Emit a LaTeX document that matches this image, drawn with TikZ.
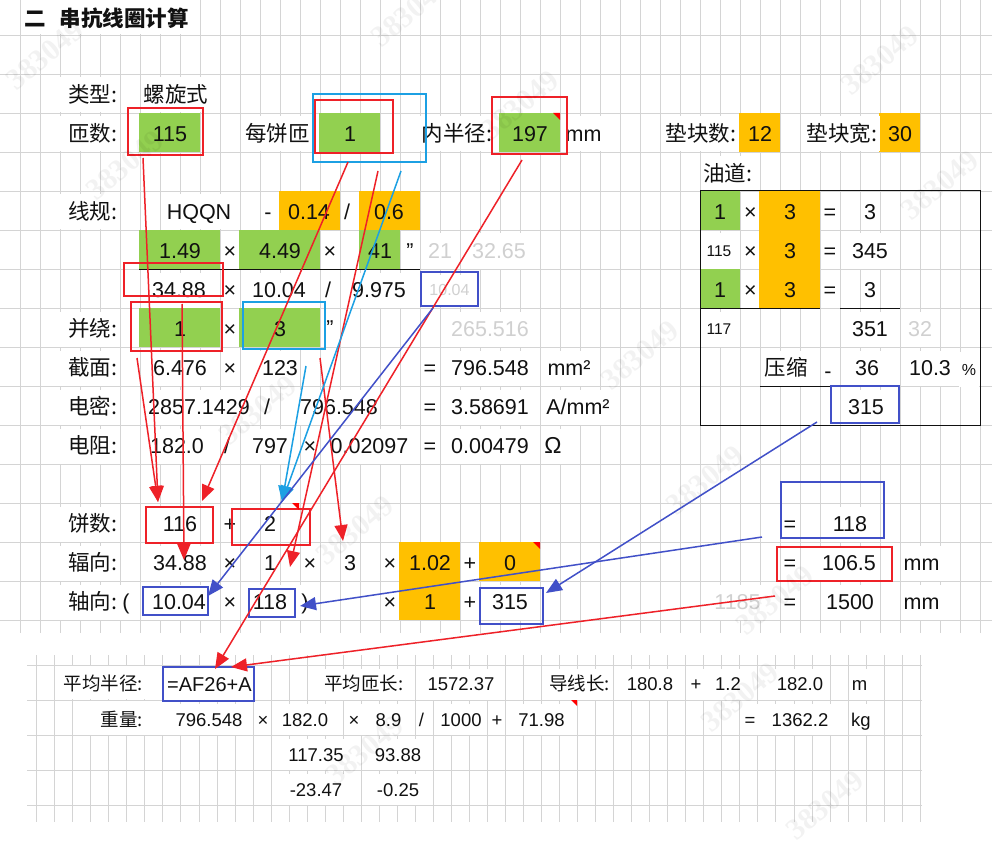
\documentclass[tikz,border=0pt]{standalone}
\usepackage{fontspec}
\setmainfont{Liberation Sans}
\newfontfamily\cjk{Noto Sans CJK SC}
\newfontfamily\wmfont{Liberation Serif}
\usetikzlibrary{arrows.meta}
\definecolor{gridc}{HTML}{D4D4D4}
\definecolor{xgreen}{HTML}{92D050}
\definecolor{xorange}{HTML}{FFC000}
\definecolor{xred}{HTML}{EE2128}
\definecolor{xsky}{HTML}{1CA0E3}
\definecolor{xblue}{HTML}{4150C8}
\definecolor{xgrey}{HTML}{D0D0D0}
\definecolor{ink}{HTML}{111111}
\newcommand{\fa}{\fontsize{21.5}{24}\selectfont}
\newcommand{\fb}{\fontsize{18.5}{21}\selectfont}
\newcommand{\fsm}{\fontsize{15.5}{18}\selectfont}
\begin{document}
\begin{tikzpicture}[x=1pt,y=-1pt,
 gl/.style={draw=gridc, line width=0.9pt},
 tx/.style={inner sep=0pt, text=ink, font=\fa, text height=15.4pt, text depth=0pt, yshift=-1.5pt},
 wt/.style={tx, fill=white, inner xsep=2.5pt, minimum height=35pt},
 wl/.style={tx, font=\fb, text height=13.3pt, fill=white, inner xsep=2.5pt, minimum height=31pt},
 lab/.style={wt, font=\fa\cjk, text width=74pt, align=right},
 cj/.style={wt, font=\fa\cjk},
 cjl/.style={wl, font=\fb\cjk},
 gr/.style={wt, text=xgrey},
 small/.style={font=\fsm, text height=11.1pt},
 rb/.style={draw=xred, line width=2pt},
 bb/.style={draw=xblue, line width=2pt},
 sb/.style={draw=xsky, line width=2pt},
 rule/.style={draw=ink, line width=1pt},
 ar/.style={line width=1.5pt, -{Triangle[length=16pt,width=13pt]}},
 wm/.style={text=black, opacity=0.05, font=\wmfont\bfseries\fontsize{30}{32}\selectfont, rotate=40, inner sep=0pt},
]
\fill[white] (0,0) rectangle (992,842);
\useasboundingbox (0,0) rectangle (992,842);
% ---------- grids ----------
\foreach \k in {0,...,15} \draw[gl] (0,{35+39*\k}) -- (992,{35+39*\k});
\foreach \k in {1,...,49} \draw[gl] ({20*\k},0) -- ({20*\k},633);
\foreach \yy in {665,700,735.7,770.7,805.5} \draw[gl] (27,\yy) -- (922,\yy);
\foreach \k in {0,...,49} \draw[gl] ({36.7+18.03*\k},655) -- ({36.7+18.03*\k},822);
% ---------- fills ----------
\fill[white] (20.5,0) rectangle (199.5,34.4);
\fill[xgreen] (139,113) rectangle (200,152);
\fill[xgreen] (319,113) rectangle (380,152);
\fill[xgreen] (499,113) rectangle (560,152);
\fill[xorange] (739,113) rectangle (780,152);
\fill[xorange] (879,113) rectangle (920,152);
\fill[xorange] (279,191) rectangle (340,230);
\fill[xorange] (359,191) rectangle (420,230);
\fill[xgreen] (700,191) rectangle (740,230);
\fill[xgreen] (700,269) rectangle (740,308);
\fill[xorange] (759,191) rectangle (820,308);
\fill[xgreen] (139,230) rectangle (220,269);
\fill[xgreen] (239,230) rectangle (320,269);
\fill[xgreen] (359,230) rectangle (400,269);
\fill[xgreen] (139,308) rectangle (220,347);
\fill[xgreen] (239,308) rectangle (320,347);
\fill[xorange] (399,542) rectangle (460,620);
\fill[xorange] (479,542) rectangle (540,581);
\fill[white] (55.5,665.6) rectangle (162.5,699.4);
\fill[white] (73.5,700.6) rectangle (162.5,735);
\fill[white] (163,667) rectangle (254,701);
% ---------- title ----------
\node[tx, font=\fa\cjk\bfseries, anchor=west] (title) at (24,17.5) {二\hspace{14pt}串抗线圈计算};
% ---------- labels ----------
\node[lab] (lLX) at (80,93.5) {类型:};
\node[lab] (lZS) at (80,132.5) {匝数:};
\node[lab] (lXG) at (80,210.5) {线规:};
\node[lab] (lBR) at (80,327.5) {并绕:};
\node[lab] (lJM) at (80,366.5) {截面:};
\node[lab] (lDM) at (80,405.5) {电密:};
\node[lab] (lDZ) at (80,444.5) {电阻:};
\node[lab] (lBS) at (80,522.5) {饼数:};
\node[lab] (lFX) at (80,561.5) {辐向:};
\node[lab] (lZX) at (80,600.5) {轴向:};
% row A
\node[cj, anchor=west] (type) at (141,93.5) {螺旋式};
% row B
\node[tx] (n115) at (170,132.5) {115};
\node[cj, anchor=east] (mbz) at (312.5,132.5) {每饼匝};
\node[tx] (nmb) at (350,132.5) {1};
\node[cj, anchor=east] (nbj) at (495,132.5) {内半径:};
\node[tx] (n197) at (530,132.5) {197};
\node[wt, anchor=west] (mm1) at (563,132.5) {mm};
\node[cj, anchor=east] (dks) at (739,132.5) {垫块数:};
\node[tx] (n12) at (760,132.5) {12};
\node[cj, anchor=east] (dkk) at (880,132.5) {垫块宽:};
\node[tx] (n30) at (900,132.5) {30};
% row C
\node[cj, anchor=west] (yd) at (700.5,172) {油道:};
% row D
\node[wt] (hqqn) at (199,210.5) {HQQN};
\node[wt] (dash1) at (268,210.5) {-};
\node[tx] (n014) at (309,210.5) {0.14};
\node[wt] (sl1) at (347,210.5) {/};
\node[tx] (n06) at (389,210.5) {0.6};
\node[tx] (t11) at (720,210.5) {1};
\node[wt] (tx11) at (750.5,210.5) {×};
\node[tx] (t12) at (790,210.5) {3};
\node[wt] (te1) at (830,210.5) {=};
\node[wt] (t13) at (870,210.5) {3};
% row E
\node[tx] (n149) at (180,249.5) {1.49};
\node[wt] (x1) at (230,249.5) {×};
\node[tx] (n449) at (280,249.5) {4.49};
\node[wt] (x2) at (330,249.5) {×};
\node[tx] (n41) at (380,249.5) {41};
\node[tx] (q1) at (410,249.5) {"};
\node[gr] (g21) at (440,249.5) {21};
\node[gr] (g3265) at (499,249.5) {32.65};
\node[wt, small] (t21) at (719,249.5) {115};
\node[wt] (tx21) at (750.5,249.5) {×};
\node[tx] (t22) at (790,249.5) {3};
\node[wt] (te2) at (830,249.5) {=};
\node[wt] (t23) at (870,249.5) {345};
\draw[rule] (139,269) -- (420,269);
% row F
\node[wt] (n3488a) at (179,288.5) {34.88};
\node[wt] (x3) at (230,288.5) {×};
\node[wt] (n1004a) at (279,288.5) {10.04};
\node[wt] (sl2) at (328,288.5) {/};
\node[wt] (n9975) at (379,288.5) {9.975};
\node[wt, text=xgrey, font=\fontsize{16}{18}\selectfont, text height=11.5pt, minimum height=30pt] (g1004) at (449.5,288.5) {10.04};
\node[tx] (t31) at (720,288.5) {1};
\node[wt] (tx31) at (750.5,288.5) {×};
\node[tx] (t32) at (790,288.5) {3};
\node[wt] (te3) at (830,288.5) {=};
\node[wt] (t33) at (870,288.5) {3};
\draw[rule] (700,308) -- (820,308);
\draw[rule] (840,308) -- (900,308);
% row G
\node[tx] (n1b) at (180,327.5) {1};
\node[wt] (x4) at (230,327.5) {×};
\node[tx] (n3b) at (280,327.5) {3};
\node[tx] (q2) at (330,326.5) {"};
\node[gr] (g265) at (490,327.5) {265.516};
\node[wt, small] (t41) at (719,327.5) {117};
\node[wt] (t43) at (870,327.5) {351};
\node[gr] (g32) at (920,327.5) {32};
% row H
\node[wt] (n6476) at (180,366.5) {6.476};
\node[wt] (x5) at (230,366.5) {×};
\node[wt] (n123) at (280,366.5) {123};
\node[wt] (eq1) at (430,366.5) {=};
\node[wt] (n796a) at (490,366.5) {796.548};
\node[wt] (u1) at (569,366.5) {mm²};
\node[cj] (ys) at (786,366.5) {压缩};
\node[wt] (dash2) at (828,369) {-};
\node[wt] (n36) at (867,366.5) {36};
\node[wt] (n103) at (930,366.5) {10.3};
\node[wt, font=\fontsize{16}{18}\selectfont, text height=11.5pt] (pct) at (969,368) {\%};
\draw[rule] (760,386) -- (831,386);
% row I
\node[wt] (n2857) at (199,405.5) {2857.1429};
\node[wt] (sl3) at (267,405.5) {/};
\node[wt] (n796b) at (339,405.5) {796.548};
\node[wt] (eq2) at (430,405.5) {=};
\node[wt] (n358) at (490,405.5) {3.58691};
\node[wt] (u2) at (578,405.5) {A/mm²};
\node[wt] (n315a) at (866,405.5) {315};
% row J
\node[wt] (n1820) at (177,444.5) {182.0};
\node[wt] (sl4) at (227,444.5) {/};
\node[wt] (n797) at (270,444.5) {797};
\node[wt] (x6) at (310,444.5) {×};
\node[wt] (n02097) at (369.5,444.5) {0.02097};
\node[wt] (eq3) at (430,444.5) {=};
\node[wt] (n00479) at (490,444.5) {0.00479};
\node[wt, font=\fontsize{23}{25}\selectfont] (om) at (553,444.5) {Ω};
% row L
\node[wt] (n116) at (180,522.5) {116};
\node[wt] (pl1) at (230,522.5) {+};
\node[wt] (n2) at (270,522.5) {2};
\node[wt] (eq4) at (790,522.5) {=};
\node[wt] (n118r) at (850,522.5) {118};
% row M
\node[wt] (n3488b) at (180,561.5) {34.88};
\node[wt] (x7) at (230,561.5) {×};
\node[wt] (n1c) at (270,561.5) {1};
\node[wt] (x8) at (310,561.5) {×};
\node[wt] (n3c) at (350,561.5) {3};
\node[wt] (x9) at (390,561.5) {×};
\node[tx] (n102) at (430,561.5) {1.02};
\node[wt] (pl2) at (470,561.5) {+};
\node[tx] (n0) at (510,561.5) {0};
\node[wt] (eq5) at (790,561.5) {=};
\node[wt] (n1065) at (849,561.5) {106.5};
\node[wt] (u3) at (921.5,561.5) {mm};
% row N
\node[wt] (lp) at (126,600.5) {(};
\node[wt] (n1004b) at (179,600.5) {10.04};
\node[wt] (x10) at (230,600.5) {×};
\node[wt] (n118b) at (270,600.5) {118};
\node[wt] (rp) at (305,600.5) {)};
\node[wt] (x11) at (390,600.5) {×};
\node[tx] (n1d) at (430,600.5) {1};
\node[wt] (pl3) at (470,600.5) {+};
\node[wt] (n315b) at (510,600.5) {315};
\node[gr] (g1185) at (737.5,600.5) {1185};
\node[wt] (eq6) at (790,600.5) {=};
\node[wt] (n1500) at (850,600.5) {1500};
\node[wt] (u4) at (921.5,600.5) {mm};
% ---------- lower block ----------
\node[tx, font=\fb\cjk, text height=13.3pt, anchor=east] (pjbj) at (143,682.5) {平均半径:};
\begin{scope}
\clip (163,667) rectangle (253,701);
\node[tx, font=\fontsize{20}{22}\selectfont, text height=14.3pt, anchor=west] (fml) at (167,683) {=AF26+A};
\end{scope}
\node[cjl, anchor=east] (pjzc) at (406,682.5) {平均匝长:};
\node[wl] (n157237) at (461,682.5) {1572.37};
\node[cjl, anchor=east] (dxc) at (612.5,682.5) {导线长:};
\node[wl] (n1808) at (650,682.5) {180.8};
\node[wl] (pl4) at (696,682.5) {+};
\node[wl] (n12b) at (728,682.5) {1.2};
\node[wl] (n1820b) at (800,682.5) {182.0};
\node[wl] (um) at (859.5,682.5) {m};
\node[tx, font=\fb\cjk, text height=13.3pt, anchor=east] (zl) at (143,718) {重量:};
\node[wl] (n796c) at (209,718) {796.548};
\node[wl] (x12) at (263,718) {×};
\node[wl] (n1820c) at (305,718) {182.0};
\node[wl] (x13) at (354,718) {×};
\node[wl] (n89) at (388.5,718) {8.9};
\node[wl] (sl5) at (421.5,718) {/};
\node[wl] (n1000) at (461,718) {1000};
\node[wl] (pl5) at (497,718) {+};
\node[wl] (n7198) at (541.5,718) {71.98};
\node[wl] (eq7) at (750,718) {=};
\node[wl] (n13622) at (800,718) {1362.2};
\node[wl] (ukg) at (861,718) {kg};
\node[wl] (n11735) at (316,753) {117.35};
\node[wl] (n9388) at (398,753) {93.88};
\node[wl] (m2347) at (316,788) {-23.47};
\node[wl] (m025) at (398,788) {-0.25};
% ---------- boxes ----------
\draw[rb] (128,108) rectangle (203,155);
\draw[sb] (313,94) rectangle (426,162);
\draw[rb] (315,100) rectangle (393,153);
\draw[rb] (492,97) rectangle (567,154);
\draw[rb] (124,263) rectangle (223,296);
\draw[bb] (421,272) rectangle (478,306);
\draw[rb] (131,302) rectangle (222,351);
\draw[sb] (243,302) rectangle (325,349);
\draw[rule] (700,191) rectangle (980,425);
\draw[bb] (831,386) rectangle (899,423);
\draw[rb] (146,507) rectangle (213,543);
\draw[rb] (232,509) rectangle (310,545);
\draw[bb] (781,482) rectangle (884,538);
\draw[rb] (777,547) rectangle (892,581);
\draw[bb] (143,587) rectangle (208,615);
\draw[bb] (249,589) rectangle (295,617);
\draw[bb] (480,588) rectangle (543,624);
\draw[bb] (163,667) rectangle (254,701);
% comment markers
\fill[red] (553,113) -- (560,113) -- (560,120) -- cycle;
\fill[red] (533,542) -- (540,542) -- (540,549) -- cycle;
\fill[red] (292,503) -- (299,503) -- (299,510) -- cycle;
\fill[red] (571,700) -- (577,700) -- (577,706) -- cycle;
% ---------- watermarks ----------
\node[wm] (w1) at (45,55) {383049};
\node[wm] (w2) at (410,12) {383049};
\node[wm] (w3) at (125,165) {383049};
\node[wm] (w4) at (520,105) {383049};
\node[wm] (w5) at (880,60) {383049};
\node[wm] (w6) at (940,185) {383049};
\node[wm] (w7) at (640,355) {383049};
\node[wm] (w8) at (258,410) {383049};
\node[wm] (w9) at (355,530) {383049};
\node[wm] (w10) at (705,480) {383049};
\node[wm] (w11) at (775,600) {383049};
\node[wm] (w12) at (365,750) {383049};
\node[wm] (w13) at (740,697) {383049};
\node[wm] (w14) at (825,805) {383049};
% ---------- arrows ----------
\coordinate (r1s) at (143,158); \coordinate (r1e) at (158,502);
\coordinate (r1bs) at (137,358);
\coordinate (r2s) at (182,304); \coordinate (r2e) at (184,560);
\coordinate (r3s) at (348,162); \coordinate (r3e) at (202,501);
\coordinate (r4s) at (378,171); \coordinate (r4e) at (290,567);
\coordinate (r5s) at (522,160); \coordinate (r5e) at (215,669);
\coordinate (r6s) at (320,358); \coordinate (r6e) at (343,541);
\coordinate (r7s) at (775,596); \coordinate (r7e) at (231,667);
\coordinate (s1s) at (401,171); \coordinate (s2s) at (306,366); \coordinate (se) at (282,502);
\coordinate (b1s) at (433,308); \coordinate (b1e) at (208,596);
\coordinate (b2s) at (817,422); \coordinate (b2e) at (546,593);
\coordinate (b3s) at (762,537); \coordinate (b3e) at (300,606);
\draw[ar, xred] (r1s) -- (r1e);
\draw[ar, xred] (r1bs) -- (r1e);
\draw[ar, xred] (r2s) -- (r2e);
\draw[ar, xred] (r3s) -- (r3e);
\draw[ar, xred] (r4s) -- (r4e);
\draw[ar, xred] (r5s) -- (r5e);
\draw[ar, xred] (r6s) -- (r6e);
\draw[ar, xred] (r7s) -- (r7e);
\draw[ar, xsky] (s1s) -- (se);
\draw[ar, xsky] (s2s) -- (se);
\draw[ar, xblue] (b1s) -- (b1e);
\draw[ar, xblue] (b2s) -- (b2e);
\draw[ar, xblue] (b3s) -- (b3e);
\end{tikzpicture}
\end{document}
